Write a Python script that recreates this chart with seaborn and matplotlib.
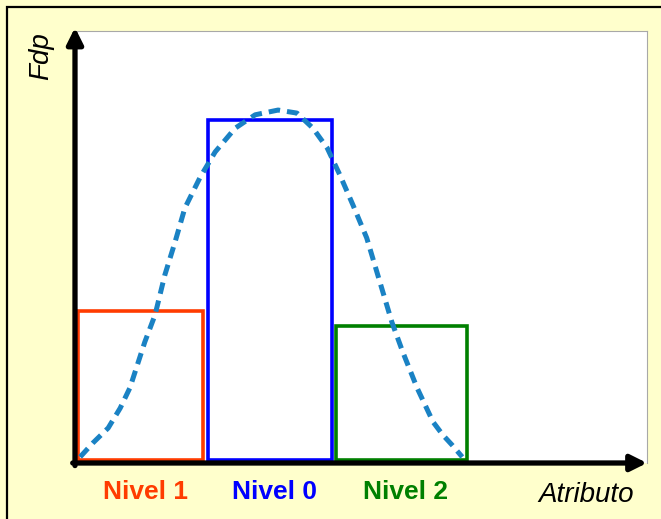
import matplotlib
matplotlib.use('Agg')
import matplotlib.pyplot as plt
from matplotlib.patches import Rectangle
import seaborn as sns
import pandas as pd

# niveles (bins) - left edge, right edge, height
nivel_names = ['Nivel 1', 'Nivel 0', 'Nivel 2']
nivel_left = [0.05, 2.33, 4.56]
nivel_right = [2.24, 4.49, 6.85]
nivel_height = [0.343, 0.785, 0.308]
nivel_colors = ['#ff3c00', '#0000ff', '#008000']

# fdp curve
curve_x = [0.09, 0.31, 0.58, 0.79, 0.96, 1.22, 1.40, 1.57, 1.75, 1.92, 2.19, 2.45, 2.80, 3.15, 3.55,
           3.88, 4.16, 4.41, 4.63, 4.86, 5.10, 5.33, 5.54, 5.73, 5.98, 6.26, 6.43, 6.59, 6.77]
curve_y = [0.014, 0.046, 0.081, 0.127, 0.174, 0.280, 0.343, 0.435, 0.512, 0.590, 0.662, 0.720, 0.775,
           0.806, 0.817, 0.810, 0.775, 0.729, 0.667, 0.597, 0.521, 0.419, 0.326, 0.257, 0.174, 0.095,
           0.065, 0.042, 0.014]

sns.set_style('white')
plt.rcParams['font.family'] = ['Liberation Sans', 'DejaVu Sans']

W, H = 661, 519
fig = plt.figure(figsize=(W / 100, H / 100), dpi=100, facecolor='#ffffcc')
ax = fig.add_axes([75 / W, 1 - 463 / H, (647 - 75) / W, (463 - 31) / H])
ax.set_facecolor('white')

# outer frame (only top and left visible)
fig.patches.append(Rectangle((7 / W, -0.1), 1.2, 1 - 7 / H + 0.1, transform=fig.transFigure,
                             fill=False, lw=1.6, edgecolor='black', zorder=0))

# bars
for left, right, h, c in zip(nivel_left, nivel_right, nivel_height, nivel_colors):
    ax.bar(left, h, width=right - left, align='edge', bottom=0.008,
           facecolor='none', edgecolor=c, lw=2.6, zorder=2)

# dashed curve
df = pd.DataFrame({'x': curve_x, 'y': curve_y})
sns.lineplot(data=df, x='x', y='y', ax=ax, color='#1a82c4', lw=3.6,
             linestyle=(0, (2.3, 1.4)), zorder=3)

ax.set_xlim(0, 10)
ax.set_ylim(0, 1)
ax.set_xticks([])
ax.set_yticks([])
ax.set_xlabel('')
ax.set_ylabel('')
for s in ['left', 'bottom']:
    ax.spines[s].set_visible(False)
for s in ['top', 'right']:
    ax.spines[s].set_color('#a8a8a8')
    ax.spines[s].set_linewidth(0.8)

# axis arrows
ax.annotate('', xy=(1.0, 0), xytext=(-0.004, 0), xycoords='axes fraction',
            arrowprops=dict(arrowstyle='-|>', lw=3.8, color='black', mutation_scale=24,
                            shrinkA=0, shrinkB=0), zorder=5)
ax.annotate('', xy=(0, 1.008), xytext=(0, -0.006), xycoords='axes fraction',
            arrowprops=dict(arrowstyle='-|>', lw=3.8, color='black', mutation_scale=24,
                            shrinkA=0, shrinkB=0), zorder=5)

# level labels under each bar
trans = ax.get_xaxis_transform()
for name, left, right, c in zip(nivel_names, nivel_left, nivel_right, nivel_colors):
    ax.text((left + right) / 2 + 0.08, -0.068, name, transform=trans, ha='center', va='center',
            fontsize=19, fontweight='bold', color=c, clip_on=False)

fig.text(586 / W, 1 - 495 / H, 'Atributo', ha='center', va='center', fontsize=20,
         style='italic', color='black')
fig.text(41 / W, 1 - 56 / H, 'Fdp', ha='center', va='center', fontsize=20,
         style='italic', color='black', rotation=90)

fig.savefig('out.png', dpi=100, facecolor=fig.get_facecolor())
